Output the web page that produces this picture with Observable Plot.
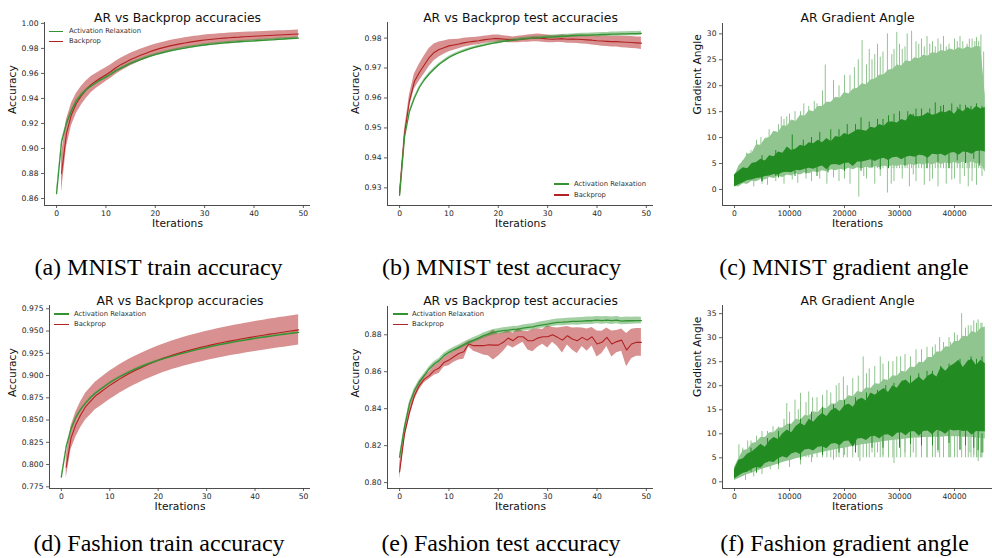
<!DOCTYPE html>
<html><head><meta charset="utf-8">
<script src="https://cdn.jsdelivr.net/npm/d3@7"></script>
<script src="https://cdn.jsdelivr.net/npm/@observablehq/plot@0.6"></script>
<style>
html,body{margin:0;padding:0;background:#fff;}
#root{position:relative;width:992px;height:558px;overflow:hidden;background:#fff;font-family:"DejaVu Sans",sans-serif;}
.panel{position:absolute;}
.cap{position:absolute;font-family:"Liberation Serif","Times New Roman",serif;font-size:24px;line-height:24px;color:#000;white-space:nowrap;text-align:center;width:330px;}
.lg-line{position:absolute;height:1.5px;}
.lg-text{position:absolute;font-family:"DejaVu Sans",sans-serif;font-size:6.8px;line-height:8px;color:#333;white-space:nowrap;}
</style></head><body><div id="root"></div><script>
// ---------- data ----------
const epochs = [0,1,2,3,4,5,6,7,8,9,10,11,12,13,14,15,16,17,18,19,20,21,22,23,24,25,26,27,28,29,30,31,32,33,34,35,36,37,38,39,40,41,42,43,44,45,46,47,48,49];

// (a) MNIST train
const mnistTrainAR = [0.864,0.905,0.920,0.930,0.938,0.943,0.947,0.950,0.9525,0.955,0.957,0.9593,0.962,0.964,0.966,0.968,0.9695,0.971,0.9725,0.9738,0.975,0.976,0.977,0.978,0.9788,0.9796,0.9803,0.981,0.9816,0.9822,0.9827,0.9832,0.9836,0.984,0.9844,0.9847,0.985,0.9853,0.9856,0.9858,0.986,0.9863,0.9865,0.9868,0.987,0.9873,0.9875,0.9878,0.988,0.9882];
const mnistTrainARsd = [0.003,0.0018,0.0015,0.0013,0.0012,0.0011,0.001,0.001,0.001,0.001,0.001,0.001,0.001,0.001,0.001,0.001,0.001,0.001,0.001,0.001,0.001,0.001,0.001,0.001,0.001,0.001,0.001,0.001,0.001,0.001,0.001,0.001,0.001,0.001,0.001,0.001,0.001,0.001,0.001,0.001,0.001,0.001,0.001,0.001,0.001,0.001,0.001,0.001,0.001,0.001];
const mnistTrainBP = [null,0.880,0.912,0.927,0.936,0.942,0.947,0.951,0.954,0.9565,0.959,0.9615,0.9645,0.967,0.969,0.9711,0.9728,0.9745,0.976,0.9775,0.9788,0.98,0.981,0.982,0.9828,0.9836,0.9843,0.985,0.9856,0.9862,0.9867,0.9871,0.9875,0.9879,0.9882,0.9885,0.9888,0.989,0.9893,0.9895,0.9897,0.9899,0.9901,0.9903,0.9905,0.9907,0.9909,0.9911,0.9913,0.9915];
const mnistTrainBPsd = [null,0.015,0.011,0.009,0.008,0.0075,0.007,0.0065,0.006,0.0058,0.0055,0.0054,0.0053,0.0052,0.0051,0.005,0.0049,0.0048,0.0047,0.0046,0.0045,0.0044,0.0044,0.0043,0.0043,0.0042,0.0042,0.0041,0.0041,0.004,0.004,0.004,0.0039,0.0039,0.0038,0.0038,0.0037,0.0037,0.0036,0.0036,0.0035,0.0035,0.0035,0.0034,0.0034,0.0034,0.0033,0.0033,0.0033,0.0033];

// (b) MNIST test
const mnistTestAR = [0.9275,0.947,0.9555,0.960,0.9635,0.966,0.968,0.9697,0.9712,0.9724,0.9735,0.9744,0.9751,0.9757,0.9763,0.9768,0.9772,0.9776,0.978,0.9783,0.9786,0.9789,0.9791,0.9793,0.9795,0.9797,0.9799,0.98,0.9801,0.9802,0.9803,0.9804,0.9805,0.9806,0.9807,0.9808,0.9809,0.981,0.981,0.9811,0.9811,0.9812,0.9812,0.9813,0.9813,0.9814,0.9814,0.9815,0.9815,0.9816];
const mnistTestARsd = [0.0004,0.0004,0.0004,0.0004,0.0004,0.0004,0.0004,0.0004,0.0004,0.0004,0.0004,0.0004,0.0004,0.0004,0.0004,0.0004,0.0004,0.0004,0.0004,0.0004,0.0005,0.0005,0.0005,0.0005,0.0005,0.0005,0.0005,0.0005,0.0005,0.0005,0.0006,0.0006,0.0006,0.0006,0.0006,0.0006,0.0006,0.0006,0.0006,0.0006,0.0007,0.0007,0.0007,0.0007,0.0007,0.0007,0.0007,0.0007,0.0007,0.0007];
const mnistTestBP = [0.928,0.948,0.959,0.9655,0.9685,0.971,0.9735,0.9752,0.9762,0.9768,0.9774,0.9777,0.978,0.9784,0.9787,0.9789,0.9791,0.9794,0.9796,0.9798,0.9798,0.9797,0.9795,0.9794,0.9795,0.9797,0.9798,0.98,0.9801,0.9799,0.9797,0.9796,0.9797,0.9798,0.9796,0.9797,0.9796,0.9795,0.9794,0.9793,0.9791,0.979,0.9789,0.9788,0.9788,0.9787,0.9786,0.9785,0.9784,0.9783];
const mnistTestBPsd = [0.001,0.0015,0.002,0.0025,0.0028,0.003,0.003,0.0028,0.0025,0.0022,0.002,0.0018,0.0016,0.0015,0.0014,0.0013,0.0013,0.0012,0.0012,0.0012,0.0012,0.0011,0.0011,0.001,0.0011,0.0011,0.0012,0.0012,0.0013,0.0013,0.0013,0.0012,0.0012,0.0013,0.0013,0.0014,0.0014,0.0015,0.0015,0.0016,0.0016,0.0017,0.0017,0.0018,0.0018,0.0019,0.0019,0.002,0.002,0.0021];

// (d) Fashion train
const fashionTrainAR = [0.786,0.820,0.840,0.853,0.862,0.869,0.875,0.880,0.884,0.888,0.892,0.8953,0.8984,0.9013,0.904,0.9066,0.909,0.9112,0.9133,0.9152,0.917,0.9187,0.9203,0.9219,0.9234,0.9249,0.9263,0.9277,0.929,0.9303,0.9315,0.9327,0.9338,0.9349,0.936,0.937,0.938,0.939,0.9399,0.9408,0.9417,0.9425,0.9433,0.9441,0.9449,0.9457,0.9464,0.9471,0.9478,0.9485];
const fashionTrainARsd = [0.002,0.0012,0.001,0.0009,0.0008,0.0008,0.0008,0.0008,0.0008,0.0008,0.0008,0.0008,0.0008,0.0008,0.0008,0.0008,0.0008,0.0008,0.0008,0.0008,0.0008,0.0008,0.0008,0.0008,0.0008,0.0008,0.0008,0.0008,0.0008,0.0008,0.0008,0.0008,0.0008,0.0008,0.0008,0.0008,0.0008,0.0008,0.0008,0.0008,0.0008,0.0008,0.0008,0.0008,0.0008,0.0008,0.0008,0.0008,0.0008,0.0008];
const fashionTrainBP = [null,0.797,0.830,0.845,0.856,0.865,0.871,0.877,0.881,0.885,0.889,0.8925,0.896,0.8992,0.9022,0.905,0.9077,0.9103,0.9127,0.915,0.9172,0.9193,0.9212,0.923,0.9247,0.9263,0.9278,0.9293,0.9307,0.932,0.9333,0.9345,0.9357,0.9368,0.9379,0.939,0.94,0.941,0.942,0.9429,0.9438,0.9447,0.9456,0.9465,0.9473,0.9481,0.9489,0.9497,0.9505,0.9513];
const fashionTrainBPsd = [null,0.012,0.013,0.014,0.0145,0.015,0.0152,0.0155,0.0157,0.0158,0.016,0.016,0.016,0.016,0.016,0.016,0.016,0.016,0.016,0.016,0.016,0.016,0.016,0.016,0.0162,0.0162,0.0163,0.0163,0.0164,0.0164,0.0165,0.0165,0.0165,0.0166,0.0166,0.0166,0.0167,0.0167,0.0167,0.0168,0.0168,0.0168,0.0169,0.0169,0.0169,0.017,0.017,0.017,0.017,0.017];

// (e) Fashion test
const fashionTestAR = [0.8138,0.830,0.8426,0.8497,0.8543,0.8579,0.8615,0.8642,0.866,0.8687,0.8705,0.872,0.8732,0.8746,0.8759,0.8771,0.8782,0.8795,0.8804,0.8813,0.8818,0.8822,0.8825,0.8829,0.883,0.8836,0.884,0.8843,0.8849,0.8854,0.8858,0.8863,0.8867,0.8868,0.887,0.8872,0.8872,0.8874,0.8876,0.8876,0.8879,0.8877,0.8879,0.8876,0.8879,0.8874,0.8876,0.8876,0.8877,0.8877];
const fashionTestARsd = [0.001,0.0012,0.0012,0.0012,0.0012,0.0012,0.0012,0.0012,0.0012,0.0013,0.0013,0.0013,0.0013,0.0014,0.0014,0.0014,0.0014,0.0015,0.0015,0.0015,0.0015,0.0016,0.0016,0.0016,0.0016,0.0017,0.0017,0.0017,0.0017,0.0018,0.0018,0.0018,0.0018,0.0019,0.0019,0.0019,0.002,0.002,0.002,0.002,0.002,0.002,0.002,0.002,0.002,0.002,0.002,0.0019,0.0019,0.0018];
const fashionTestBP = [0.8058,0.8264,0.838,0.847,0.8525,0.856,0.8579,0.8606,0.862,0.865,0.8663,0.8681,0.8699,0.8708,0.875,0.8741,0.8741,0.8741,0.8746,0.8744,0.8744,0.8759,0.8782,0.8768,0.8789,0.8789,0.8768,0.8768,0.8782,0.8789,0.8789,0.88,0.8786,0.8771,0.8795,0.8777,0.8768,0.8786,0.8771,0.8789,0.875,0.8759,0.8786,0.875,0.8763,0.8771,0.8717,0.875,0.8759,0.8759];
const fashionTestBPsd = [0.004,0.003,0.0028,0.0025,0.0022,0.002,0.002,0.0025,0.003,0.0025,0.003,0.003,0.0035,0.004,0.0015,0.003,0.004,0.005,0.006,0.008,0.006,0.005,0.004,0.004,0.0045,0.003,0.005,0.006,0.005,0.004,0.006,0.004,0.005,0.007,0.005,0.006,0.007,0.005,0.006,0.005,0.007,0.006,0.005,0.007,0.006,0.006,0.009,0.008,0.0075,0.0075];

// (c), (f) gradient angle: envelopes of the light (mean ± std) and dark (angle) regions
const gradIter = [0,800,1600,2400,3200,4000,4800,5600,6400,7200,8000,8800,9600,10400,11200,12000,12800,13600,14400,15200,16000,16800,17600,18400,19200,20000,20800,21600,22400,23200,24000,24800,25600,26400,27200,28000,28800,29600,30400,31200,32000,32800,33600,34400,35200,36000,36800,37600,38400,39200,40000,40800,41600,42400,43200,44000,44800,45600];
const mnistGradLightHi = [2.5,4.5,5.5,6.8,7.0,8.6,8.5,9.8,10.0,11.2,11.0,12.3,12.2,13.4,13.1,14.3,14.1,15.2,15.0,16.0,16.0,16.8,16.8,17.8,17.6,18.7,18.4,19.3,19.5,20.4,20.2,21.1,21.3,22.0,22.1,23.0,23.2,24.0,23.8,24.8,24.6,25.4,25.2,25.9,25.7,26.4,26.2,26.8,26.6,27.1,26.8,27.3,27.0,27.5,27.2,27.6,27.4,18];
const mnistGradLightLo = [0.5,0.5,1.1,1.0,1.6,1.5,1.9,1.8,2.3,2.1,2.5,2.3,2.8,2.6,3.0,2.8,3.2,3.0,3.4,3.2,3.6,3.4,3.8,3.6,3.9,3.7,4.1,3.8,4.2,4.0,4.3,4.1,4.4,4.2,4.5,4.3,4.6,4.4,4.7,4.5,4.8,4.6,4.9,4.7,5.0,4.7,5.1,4.8,5.1,4.9,5.2,4.9,5.3,5.0,5.3,4.9,5.0,3.3];
const mnistGradDarkHi = [2.8,3.5,4.2,4.0,5.0,5.2,5.8,5.5,6.5,6.3,7.2,7.0,8.2,7.5,7.8,8.5,8.3,9.0,8.8,9.5,9.0,9.8,9.2,10.2,10.0,10.8,10.5,11.0,11.5,11.4,11.2,12.0,11.8,12.5,12.2,13.0,13.0,12.8,13.5,13.2,14.5,14.0,14.0,14.2,14.8,14.3,14.5,15.0,14.8,15.2,14.5,15.5,15.0,15.8,15.2,16.0,15.5,15.8];
const mnistGradDarkLo = [0.5,0.9,1.3,1.7,1.8,2.1,2.2,2.5,2.6,2.9,2.8,3.2,3.3,3.2,3.7,3.6,3.9,4.1,3.9,4.3,4.5,3.8,4.7,4.8,4.6,5.0,5.1,4.4,5.3,5.3,5.5,5.7,5.4,5.8,6.0,5.6,6.1,6.2,5.7,6.2,6.4,6.2,6.6,6.5,6.0,6.8,6.7,6.8,6.4,7.0,7.1,6.6,7.2,7.1,6.8,7.3,7.4,7.2];
// thin spikes beyond the envelopes (iteration, angle)
const mnistLightSpikeUpX = [3000,5500,7000,9000,9500,13500,15000,16500,17200,19000,21000,22500,23200,24500,25500,26000,27000,27800,28600,29500,30500,31400,32200,33500,34500,35500,36500,37500,38500,39500,40500,41500,42300,43200,44000,44800,45300,1500,2200,4000,4800,6300,8000,8500,10000,11000,12000,12600,14500,16000,18000,20000,21800,24000,25000,26500,29000,30000,31000,33000,34000,35000,36000,37000,38000,39000,40000,41000,42700,43700,44400];
const mnistLightSpikeUpY = [7.5,9.5,11,13.5,14,16,16.5,24,16.5,20,22,25,28.7,27,26,28,26.5,30,26,30.3,27,30,30.5,28,27.5,28,27.5,28,27.5,27,28.5,28.5,28,29,29.3,29.8,26.5,5.5,7,9.5,10,11.5,12.5,14,14.5,15,15,16.5,17,19,21,22,23.5,24,25,25.5,27,28,27.5,28.5,29,29.5,28.5,29,29.5,28,29,29.5,29,28.5,28.5];
const mnistLightSpikeDownX = [3500,6000,9000,11500,14000,16800,19000,21000,22600,24000,25500,27800,29000,30500,31800,33000,34500,36000,37000,38500,40000,41000,42500,44000,45000,5000,7500,10500,13000,15500,18000,20000,23500,26500,28500,32500,35500,39500,41800,43200];
const mnistLightSpikeDownY = [0.5,0.8,1.0,1.2,1.5,1.0,1.5,1.0,-1.5,2.0,1.0,-0.7,1.5,2.0,0.5,1.5,0.8,2.0,0.5,1.0,2.0,1.0,0.5,0.8,2.5,1.0,1.5,1.8,2.0,2.0,2.2,2.0,2.5,2.5,1.0,2.8,1.5,1.8,2.5,1.5];
const mnistDarkSpikeUpX = [10500,15500,20500,23000,26000,28000,30000,33000,36500,38000,41000,43000,45000,5000,7500,12500,14000,17500,19000,22000,24500,27000,29000,31500,32500,34000,35500,37500,39500,40500,42000,44000];
const mnistDarkSpikeUpY = [10.5,11,12.5,13.8,13.5,14.2,15,15.5,16.7,16.2,16.3,16,16,6.5,7.5,9.5,10,11.5,11.5,12.5,13,13.5,14.5,15,14.5,15.5,15.5,16,16.5,15.8,16.2,16.5];
const mnistDarkSpikeDownX = [15000,20000,23000,28000,31000,35000,39000,42000,44500,5000,8000,11000,13000,17000,25000,26500,33000,37000,40500,43500];
const mnistDarkSpikeDownY = [2.5,3.5,3.5,4,4.5,4,4,5,4.5,1.5,2.2,2.5,3.0,3.2,4.2,3.8,4.8,5.2,5.5,5.8];

const fashionGradLightHi = [3,4.9,6.5,6.7,8.0,8.2,9.2,9.2,10.2,10.2,11.2,11.2,12.0,12.0,13.0,12.8,13.8,13.7,14.6,14.4,15.4,15.2,16.2,16.2,17.0,16.9,17.9,17.7,18.8,18.6,19.6,19.4,20.4,20.3,21.3,21.1,22.1,22.0,23.0,22.8,23.9,23.8,24.9,24.8,25.9,25.9,27.0,27.0,28.1,28.0,29.2,29.2,30.3,30.2,31.3,31.0,31.9,32.2];
const fashionGradLightLo = [0.3,0.7,1.1,1.5,1.8,2.2,2.5,2.8,3.1,3.4,3.7,4.0,4.3,4.5,4.8,5.0,5.2,5.5,5.7,5.9,6.1,6.3,6.5,6.7,6.9,7.0,7.2,7.4,7.5,7.7,7.8,8.0,8.1,8.2,8.4,8.5,8.6,8.7,8.8,8.9,9.0,9.1,9.1,9.2,9.2,9.3,9.3,9.3,9.4,9.4,9.4,9.4,9.3,9.3,9.2,9.1,9.0,8.9];
const fashionGradDarkHi = [2.5,4.5,4.8,5.8,6.2,7.0,7.8,7.2,8.5,9.2,8.8,10.0,10.8,10.2,11.5,12.2,11.6,13.0,12.4,13.5,14.2,13.6,14.8,15.3,14.6,15.8,16.2,15.5,17.0,17.4,16.8,18.5,18.0,18.8,19.4,18.6,20.0,19.5,20.8,21.2,20.3,21.1,21.8,21.0,22.0,22.5,21.8,23.9,23.0,24.0,24.5,25.3,23.8,25.0,25.5,24.2,25.3,24.6];
const fashionGradDarkLo = [0.6,1.2,1.8,2.0,2.6,3.0,2.8,3.8,4.2,4.0,4.8,5.2,4.9,5.8,6.1,5.7,6.6,6.8,6.4,7.2,7.3,6.9,7.8,8.0,7.5,8.4,8.5,7.2,8.9,9.0,8.6,9.4,9.5,8.9,9.7,9.8,9.2,10.1,10.2,9.6,10.4,10.4,9.5,10.5,10.6,9.8,10.7,10.5,9.9,10.8,10.6,10.7,10.5,10.6,9.7,10.5,10.4,10.4];
const fashionLightSpikeUpX = [800,3000,6000,8000,9500,11000,12000,13500,15000,16800,18500,19800,21500,23400,24500,26500,28000,29500,31000,33000,35000,36500,38000,39300,40500,41300,42500,43500,44300,45000,1500,2400,4000,5000,7000,9000,10000,11600,13000,14200,16000,17500,19000,20500,22500,24000,25500,27000,28800,30200,32000,34000,36000,37300,39000,40000,42000,43000,44000,44800];
const fashionLightSpikeUpY = [7.7,8.5,10.5,11.4,16.3,17,18.4,18.7,17.5,19,20,21.8,21.5,26,23.5,26,25,26,26.5,27.5,28,28.5,29,29,30.5,35,32.5,33.5,33.7,33,7,8.5,9.5,10.5,11.5,13,14.5,15,16.5,17.5,18,18.5,20.5,20,22,22.5,24,24.5,25,26,26,27.5,28,30,30,31,32,32.5,33,33];
const fashionLightSpikeDownX = [2000,5000,8000,12000,16000,20000,22800,25000,27000,29000,31000,34000,36000,38000,40000,42000,43500,44300,45200,3500,6500,10000,14000,18000,24000,26000,28000,32500,35000,37000,39000,41000,42800,44800];
const fashionLightSpikeDownY = [0.3,1.5,2.5,3.5,5,5.5,4.2,6,5.5,3.8,6,5.5,6.5,6,6.6,7,5.5,4.2,6,1.0,2.5,3.0,4.0,4.5,5.5,6.0,5.0,6.0,5.0,6.0,5.0,6.5,6.0,5.0];
const fashionDarkSpikeUpX = [12000,18000,22000,26000,29000,32000,36000,40000,42500,44000,3000,6000,8000,10000,14000,16000,20000,24000,27500,30500,33500,35000,37500,39000,41000,43000,45000];
const fashionDarkSpikeUpY = [13,16,17.5,19,20.5,22,23,24.5,25.3,25.5,7,9,10.5,12,14.5,15.5,17,18.5,20,21,22.5,23,24,24.5,25.5,26,26];
const fashionDarkSpikeDownX = [22000,27000,30000,34000,37000,41000,43500,45000,4000,8000,12000,16000,19000,25000,32000,36000,39000,42000,44300];
const fashionDarkSpikeDownY = [6,7,7,7.5,6.5,6.6,7,6,1.8,3.5,4.5,5.5,6.0,7.0,7.8,7.5,8.0,7.5,6.5];

// ticks
const epochTicks = [0,10,20,30,40,50];
const gradTicksX = [0,10000,20000,30000,40000];
const mnistTrainTicks = [0.86,0.88,0.90,0.92,0.94,0.96,0.98,1.00];
const mnistTestTicks = [0.93,0.94,0.95,0.96,0.97,0.98];
const mnistGradTicks = [0,5,10,15,20,25,30];
const fashionTrainTicks = [0.775,0.800,0.825,0.850,0.875,0.900,0.925,0.950,0.975];
const fashionTestTicks = [0.80,0.82,0.84,0.86,0.88];
const fashionGradTicks = [0,5,10,15,20,25,30,35];

const titles = ["AR vs Backprop accuracies","AR vs Backprop test accuracies","AR Gradient Angle"];
const captions = ["(a) MNIST train accuracy","(b) MNIST test accuracy","(c) MNIST gradient angle","(d) Fashion train accuracy","(e) Fashion test accuracy","(f) Fashion gradient angle"];
const seriesNames = ["Activation Relaxation","Backprop"];

// ---------- drawing ----------
const RED = "#b22222", GREEN = "#349434", GGREEN = "#228b22", GLIGHT = "#90c590", AXIS = "#3a3a3a", INK = "#262626";
const root = document.getElementById("root");

function rows(xs, m, s) {
  return xs.map((x, i) => ({x, y: m[i], lo: m[i] == null ? null : m[i] - s[i], hi: m[i] == null ? null : m[i] + s[i]})).filter(d => d.y != null);
}
function gradRows(xs, lHi, lLo, dHi, dLo) {
  return xs.map((x, i) => ({x, lhi: lHi[i], llo: lLo[i], dhi: dHi[i], dlo: dLo[i]}));
}
function pts(xs, ys) { return xs.map((x, i) => ({x, y: ys[i]})); }

function panel(c) {
  const svg = Plot.plot({
    width: c.width, height: 240,
    marginTop: c.m[0], marginRight: c.m[1], marginBottom: c.m[2], marginLeft: c.m[3],
    x: {domain: c.xDomain},
    y: {domain: c.yDomain},
    style: {fontFamily: "DejaVu Sans", fontSize: "7.6px", color: INK, background: "transparent", overflow: "visible"},
    marks: [
      ...c.marks,
      Plot.ruleX([c.xDomain[0]], {stroke: AXIS, strokeWidth: 0.9}),
      Plot.ruleY([c.yDomain[0]], {stroke: AXIS, strokeWidth: 0.9}),
      Plot.axisX({ticks: c.xTicks, tickFormat: c.xFmt, tickSize: 3, tickPadding: 2, label: null, stroke: AXIS, strokeWidth: 0.8}),
      Plot.axisY({ticks: c.yTicks, tickFormat: c.yFmt, tickSize: 3, tickPadding: 3, label: null, stroke: AXIS, strokeWidth: 0.8}),
      Plot.text([c.title], {text: d => d, frameAnchor: "top", dy: c.titleDy, fontSize: 12.4, fill: "#111"}),
      Plot.text(["Iterations"], {text: d => d, frameAnchor: "bottom", dy: 21, fontSize: 10.7, fill: "#111"}),
      Plot.text([c.yLabel], {text: d => d, frameAnchor: "left", rotate: -90, dx: c.yLabelDx, fontSize: 10.7, fill: "#111"})
    ]
  });
  const div = document.createElement("div");
  div.className = "panel";
  div.style.left = c.left + "px";
  div.style.top = c.top + "px";
  div.appendChild(svg);
  root.appendChild(div);
}

function accMarks(ar, bp) {
  return [
    Plot.areaY(bp, {x: "x", y1: "lo", y2: "hi", fill: RED, fillOpacity: 0.5}),
    Plot.areaY(ar, {x: "x", y1: "lo", y2: "hi", fill: GREEN, fillOpacity: 0.45}),
    Plot.lineY(bp, {x: "x", y: "y", stroke: RED, strokeWidth: 1.1}),
    Plot.lineY(ar, {x: "x", y: "y", stroke: GREEN, strokeWidth: 1.3})
  ];
}
function gradMarks(g, lUp, lDown, dUp, dDown, upBase) {
  return [
    Plot.ruleX(lUp, {x: "x", y1: upBase, y2: "y", stroke: GLIGHT, strokeWidth: 1}),
    Plot.ruleX(lDown, {x: "x", y1: "y", y2: d => d.y + 6, stroke: GLIGHT, strokeWidth: 1}),
    Plot.areaY(g, {x: "x", y1: "llo", y2: "lhi", fill: GLIGHT}),
    Plot.ruleX(dUp, {x: "x", y1: d => d.y - 5, y2: "y", stroke: GGREEN, strokeWidth: 1}),
    Plot.ruleX(dDown, {x: "x", y1: "y", y2: d => d.y + 4, stroke: GGREEN, strokeWidth: 1}),
    Plot.areaY(g, {x: "x", y1: "dlo", y2: "dhi", fill: GGREEN})
  ];
}

const accX = [-2.45, 51.45];
const gradX = [-2182, 46909];
const f2 = d3.format(".2f"), f3 = d3.format(".3f"), fd = d3.format("d");

panel({left: 0, top: 0, width: 330, m: [22, 20, 35, 44], xDomain: accX, yDomain: [0.8544, 1.0007],
  xTicks: epochTicks, xFmt: fd, yTicks: mnistTrainTicks, yFmt: f2, title: titles[0], titleDy: -9, yLabel: "Accuracy", yLabelDx: -32,
  marks: accMarks(rows(epochs, mnistTrainAR, mnistTrainARsd), rows(epochs, mnistTrainBP, mnistTrainBPsd))});
panel({left: 330, top: 0, width: 330, m: [22, 7, 35, 57], xDomain: accX, yDomain: [0.9241, 0.9852],
  xTicks: epochTicks, xFmt: fd, yTicks: mnistTestTicks, yFmt: f2, title: titles[1], titleDy: -9, yLabel: "Accuracy", yLabelDx: -32,
  marks: accMarks(rows(epochs, mnistTestAR, mnistTestARsd), rows(epochs, mnistTestBP, mnistTestBPsd))});
panel({left: 660, top: 0, width: 332, m: [23, 0, 35, 62], xDomain: gradX, yDomain: [-3.1, 32],
  xTicks: gradTicksX, xFmt: fd, yTicks: mnistGradTicks, yFmt: fd, title: titles[2], titleDy: -10, yLabel: "Gradient Angle", yLabelDx: -24.5,
  marks: gradMarks(gradRows(gradIter, mnistGradLightHi, mnistGradLightLo, mnistGradDarkHi, mnistGradDarkLo),
    pts(mnistLightSpikeUpX, mnistLightSpikeUpY), pts(mnistLightSpikeDownX, mnistLightSpikeDownY),
    pts(mnistDarkSpikeUpX, mnistDarkSpikeUpY), pts(mnistDarkSpikeDownX, mnistDarkSpikeDownY), 4)});
panel({left: 0, top: 280, width: 330, m: [25, 20, 32, 49], xDomain: accX, yDomain: [0.7731, 0.9787],
  xTicks: epochTicks, xFmt: fd, yTicks: fashionTrainTicks, yFmt: f3, title: titles[0], titleDy: -9, yLabel: "Accuracy", yLabelDx: -37,
  marks: accMarks(rows(epochs, fashionTrainAR, fashionTrainARsd), rows(epochs, fashionTrainBP, fashionTrainBPsd))});
panel({left: 330, top: 280, width: 330, m: [26, 7, 32, 57], xDomain: accX, yDomain: [0.7968, 0.8953],
  xTicks: epochTicks, xFmt: fd, yTicks: fashionTestTicks, yFmt: f2, title: titles[1], titleDy: -10, yLabel: "Accuracy", yLabelDx: -32,
  marks: accMarks(rows(epochs, fashionTestAR, fashionTestARsd), rows(epochs, fashionTestBP, fashionTestBPsd))});
panel({left: 660, top: 280, width: 332, m: [25, 0, 32, 62], xDomain: gradX, yDomain: [-1.39, 36.7],
  xTicks: gradTicksX, xFmt: fd, yTicks: fashionGradTicks, yFmt: fd, title: titles[2], titleDy: -9, yLabel: "Gradient Angle", yLabelDx: -24.5,
  marks: gradMarks(gradRows(gradIter, fashionGradLightHi, fashionGradLightLo, fashionGradDarkHi, fashionGradDarkLo),
    pts(fashionLightSpikeUpX, fashionLightSpikeUpY), pts(fashionLightSpikeDownX, fashionLightSpikeDownY),
    pts(fashionDarkSpikeUpX, fashionDarkSpikeUpY), pts(fashionDarkSpikeDownX, fashionDarkSpikeDownY), 5)});

// legends
function legend(x, y1, y2, lineW, textX) {
  [[seriesNames[0], GREEN, y1], [seriesNames[1], RED, y2]].forEach(([name, col, y]) => {
    const l = document.createElement("div");
    l.className = "lg-line";
    l.style.left = x + "px"; l.style.top = (y - 0.75) + "px"; l.style.width = lineW + "px"; l.style.background = col;
    root.appendChild(l);
    const t = document.createElement("div");
    t.className = "lg-text";
    t.style.left = textX + "px"; t.style.top = (y - 4.5) + "px";
    t.textContent = name;
    root.appendChild(t);
  });
}
legend(49, 31.3, 41.7, 14, 69);
legend(554, 184, 195, 15, 574);
legend(54, 314, 324.3, 15, 74);
legend(393, 314, 324.3, 14.5, 412);

// captions
const capCenters = [158.5, 501.5, 844, 159, 501, 844.5];
captions.forEach((txt, i) => {
  const d = document.createElement("div");
  d.className = "cap";
  d.style.left = (capCenters[i] - 165) + "px";
  d.style.top = (i < 3 ? 255 : 531) + "px";
  d.textContent = txt;
  root.appendChild(d);
});
</script></body></html>
